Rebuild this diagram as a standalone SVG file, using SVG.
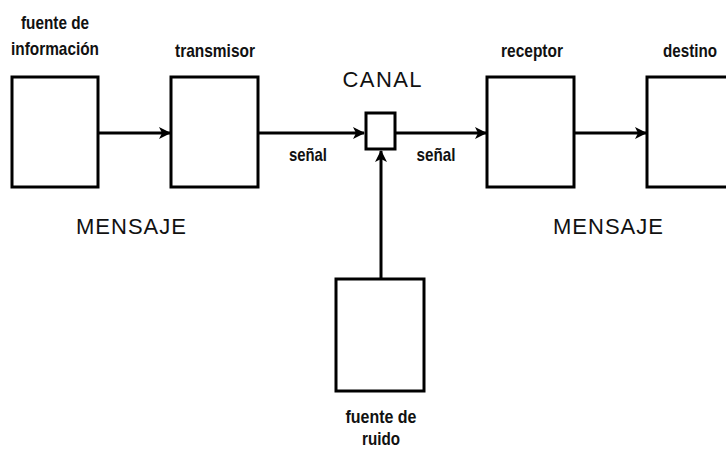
<svg xmlns="http://www.w3.org/2000/svg" width="726" height="450" viewBox="0 0 726 450">
<style>
.box{fill:#fff;stroke:#000;stroke-width:3}
.lbl{font-family:"Liberation Sans",Arial,sans-serif;font-weight:bold;font-size:19px;fill:#111;text-anchor:middle}
.big{font-family:"Liberation Sans",Arial,sans-serif;font-size:22px;fill:#111;text-anchor:middle}
.conn{stroke:#000;stroke-width:3;fill:none;marker-end:url(#ah)}
</style>
<defs>
<marker id="ah" markerWidth="12" markerHeight="12" refX="11" refY="6" orient="auto" markerUnits="userSpaceOnUse">
<path d="M0,0 L12,6 L0,12 L3,6 Z" fill="#000"/>
</marker>
</defs>
<rect width="726" height="450" fill="#fff"/>
<g id="fuente">
<rect class="box" x="12" y="77" width="86" height="110"/>
<text class="lbl" x="55" y="29" textLength="68" lengthAdjust="spacingAndGlyphs">fuente de</text>
<text class="lbl" x="55" y="55" textLength="88" lengthAdjust="spacingAndGlyphs">información</text>
</g>
<g id="transmisor">
<rect class="box" x="171" y="77" width="87" height="110"/>
<text class="lbl" x="215" y="57" textLength="80" lengthAdjust="spacingAndGlyphs">transmisor</text>
</g>
<g id="canal">
<rect class="box" x="366" y="113" width="29" height="36"/>
<text class="big" x="382" y="87" textLength="79" lengthAdjust="spacing">CANAL</text>
</g>
<g id="receptor">
<rect class="box" x="487" y="77" width="87" height="110"/>
<text class="lbl" x="532" y="57" textLength="62" lengthAdjust="spacingAndGlyphs">receptor</text>
</g>
<g id="destino">
<rect class="box" x="647" y="77" width="87" height="110"/>
<text class="lbl" x="690" y="57" font-size="18" textLength="54" lengthAdjust="spacingAndGlyphs">destino</text>
</g>
<g id="ruido">
<rect class="box" x="336" y="279" width="88" height="112"/>
<text class="lbl" x="381" y="423" textLength="71" lengthAdjust="spacingAndGlyphs">fuente de</text>
<text class="lbl" x="381" y="445" textLength="38" lengthAdjust="spacingAndGlyphs">ruido</text>
</g>
<g id="textos">
<text class="big" x="131" y="234" textLength="110" lengthAdjust="spacing">MENSAJE</text>
<text class="big" x="608" y="234" textLength="110" lengthAdjust="spacing">MENSAJE</text>
<text class="lbl" x="308" y="161" textLength="38" lengthAdjust="spacingAndGlyphs">señal</text>
<text class="lbl" x="436" y="161" textLength="39" lengthAdjust="spacingAndGlyphs">señal</text>
</g>
<g id="conectores">
<line class="conn" x1="98" y1="133" x2="170" y2="133"/>
<line class="conn" x1="258" y1="133" x2="364" y2="133"/>
<line class="conn" x1="395" y1="133" x2="486" y2="133"/>
<line class="conn" x1="574" y1="133" x2="646" y2="133"/>
<line class="conn" x1="381" y1="279" x2="381" y2="151"/>
</g>
</svg>
